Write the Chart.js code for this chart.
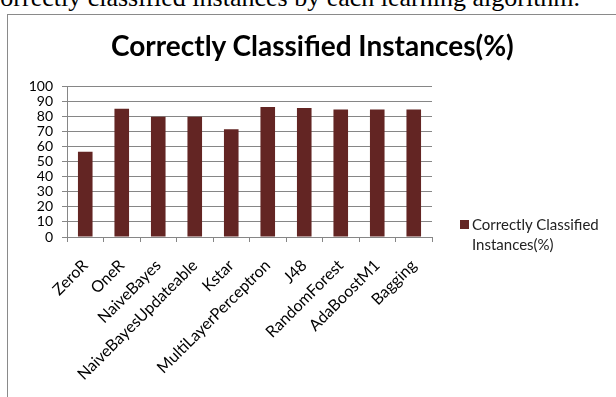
<!DOCTYPE html>
<html>
<head>
<meta charset="utf-8">
<script src="https://cdn.jsdelivr.net/npm/chart.js@4/dist/chart.umd.min.js"></script>
<style>
  html, body { margin: 0; padding: 0; width: 616px; height: 397px; overflow: hidden; background: #fff; }
  #caption { position: absolute; left: -17px; top: -15px; font-family: "Liberation Serif", "Times New Roman", serif; font-size: 26px; line-height: 26px; white-space: nowrap; color: #000; }
  #frame { position: absolute; left: 7px; top: 14px; width: 700px; height: 500px; border: 1px solid #8a8a8a; }
  #wrap { position: absolute; left: 0; top: 0; width: 616px; height: 397px; }
  #title { position: absolute; left: 111px; width: 400px; top: 29px; text-align: center; font-family: Lato, "Open Sans", sans-serif; font-weight: bold; font-size: 28px; line-height: 32px; white-space: nowrap; color: #000; }
  #legend { position: absolute; left: 460px; top: 214px; font-family: Lato, "Open Sans", sans-serif; font-size: 15px; line-height: 20px; color: #222; }
  #legend .sw { position: absolute; left: 0; top: 6px; width: 8.5px; height: 8.5px; }
  #legend .tx { position: absolute; left: 12px; top: 0; white-space: nowrap; }
</style>
</head>
<body>
<div id="caption">Correctly classified instances by each learning algorithm.</div>
<div id="frame"></div>
<div id="wrap"><canvas id="c" width="616" height="397"></canvas></div>
<div id="title"></div>
<div id="legend"><div class="sw"></div><div class="tx"></div></div>
<script>
const chartTitle = "Correctly Classified Instances(%)";
const seriesName = "Correctly Classified Instances(%)";
const legendLines = ["Correctly Classified", "Instances(%)"];
const categories = ["ZeroR", "OneR", "NaiveBayes", "NaiveBayesUpdateable", "Kstar", "MultiLayerPerceptron", "J48", "RandomForest", "AdaBoostM1", "Bagging"];
const values = [56.5, 85.0, 79.6, 79.6, 71.3, 86.1, 85.5, 84.4, 84.4, 84.4];
const yMin = 0, yMax = 100, yStep = 10;

const barColor = "#632523";
const gridColor = "#868686";
document.getElementById('title').textContent = chartTitle;
document.querySelector('#legend .sw').style.background = barColor;
document.querySelector('#legend .tx').innerHTML = legendLines.join('<br>');

new Chart(document.getElementById('c'), {
  type: 'bar',
  data: {
    labels: categories,
    datasets: [{
      label: seriesName,
      data: values,
      backgroundColor: barColor,
      borderWidth: 0,
      categoryPercentage: 0.8,
      barPercentage: 0.5
    }]
  },
  options: {
    responsive: false,
    animation: false,
    devicePixelRatio: 1,
    layout: { padding: { left: 0, right: 184, top: 86, bottom: 0 } },
    plugins: {
      legend: { display: false },
      tooltip: { enabled: false },
      title: { display: false }
    },
    scales: {
      x: {
        offset: true,
        grid: { display: true, drawOnChartArea: false, drawTicks: true, tickLength: 5, color: gridColor, offset: true },
        border: { display: true, color: gridColor, width: 1 },
        ticks: {
          color: '#000',
          font: { family: 'Lato, "Open Sans", sans-serif', size: 16 },
          minRotation: 45, maxRotation: 45, autoSkip: false, padding: 14
        },
        afterFit: (s) => { s.height = 160; }
      },
      y: {
        min: yMin, max: yMax,
        grid: { color: gridColor, tickLength: 5, drawTicks: true },
        border: { display: true, color: gridColor, width: 1 },
        ticks: {
          stepSize: yStep, autoSkip: false,
          color: '#000',
          font: { family: 'Lato, "Open Sans", sans-serif', size: 14 },
          padding: 9
        },
        afterFit: (s) => { s.width = 67; }
      }
    }
  }
});
</script>
</body>
</html>
